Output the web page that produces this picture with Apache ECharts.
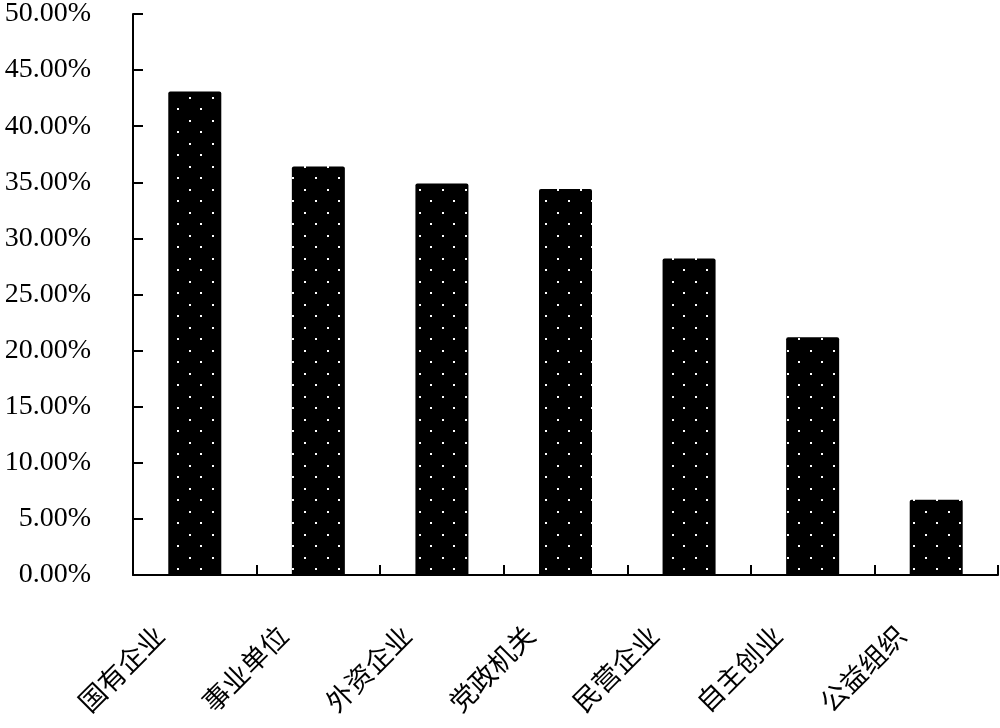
<!DOCTYPE html>
<html>
<head>
<meta charset="utf-8">
<script src="https://cdn.jsdelivr.net/npm/echarts@6/dist/echarts.min.js"></script>
<style>
html,body{margin:0;padding:0;background:#fff;}
#main{width:1000px;height:728px;}
</style>
</head>
<body>
<div id="main"></div>
<script>
const categories = ['国有企业', '事业单位', '外资企业', '党政机关', '民营企业', '自主创业', '公益组织'];
const values = [43.1, 36.4, 34.9, 34.4, 28.2, 21.2, 6.7];
const yMin = 0, yMax = 50, yStep = 5;

// dotted pattern tile: black with staggered white dots
const tile = document.createElement('canvas');
tile.width = 23; tile.height = 23;
const ctx = tile.getContext('2d');
ctx.fillStyle = '#000';
ctx.fillRect(0, 0, 23, 23);
ctx.fillStyle = '#fff';
ctx.fillRect(5, 5, 2, 2);
ctx.fillRect(16, 16, 2, 2);

const chart = echarts.init(document.getElementById('main'), null, {renderer: 'canvas'});
chart.setOption({
  animation: false,
  backgroundColor: '#fff',
  grid: {left: 133, right: 2, top: 10, bottom: 153, containLabel: false},
  xAxis: {
    type: 'category',
    data: categories,
    axisLine: {show: true, lineStyle: {color: '#000', width: 2}},
    axisTick: {show: true, inside: true, length: 10, lineStyle: {color: '#000', width: 2}},
    axisLabel: {
      interval: 0, rotate: 45, margin: 20, padding: [0, 50, 0, 0],
      fontSize: 27, color: '#000', fontFamily: 'Noto Sans CJK SC'
    },
    splitLine: {show: false}
  },
  yAxis: {
    type: 'value',
    min: yMin, max: yMax, interval: yStep,
    axisLine: {show: true, lineStyle: {color: '#000', width: 2}},
    axisTick: {show: true, inside: true, length: 10, lineStyle: {color: '#000', width: 2}},
    axisLabel: {
      margin: 42, fontSize: 28, color: '#000', fontFamily: 'Liberation Serif',
      formatter: v => v.toFixed(2) + '%'
    },
    splitLine: {show: false}
  },
  series: [{
    type: 'bar',
    data: values,
    barWidth: 53,
    itemStyle: {color: {image: tile, repeat: 'repeat'}, borderRadius: [2, 2, 0, 0]}
  }]
});
</script>
</body>
</html>
